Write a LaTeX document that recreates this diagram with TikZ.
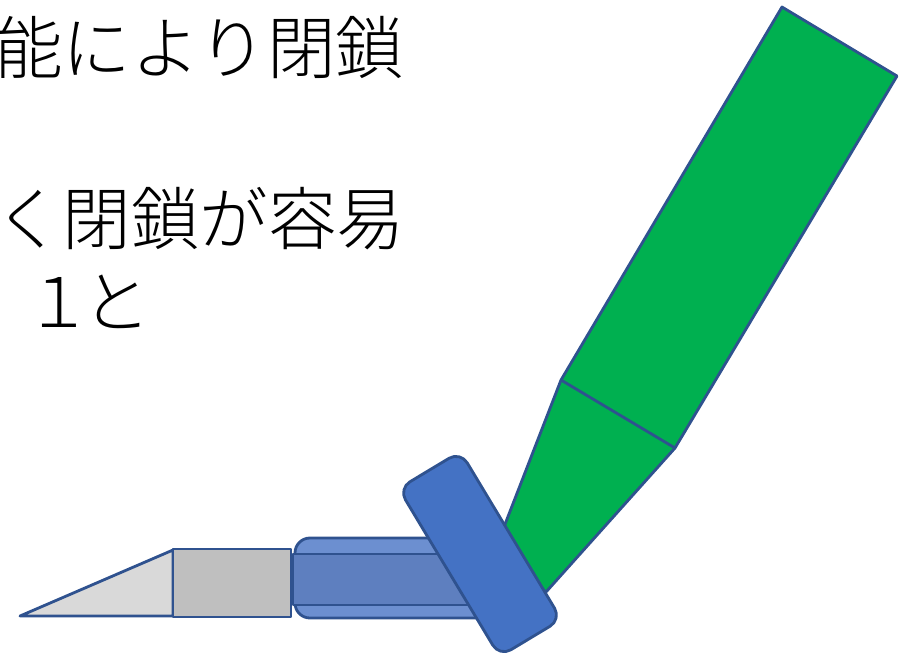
\documentclass[tikz,border=0pt]{standalone}
\usepackage{fontspec}
\newfontfamily\jpfont{Noto Sans CJK JP}[UprightFont=* Light]
\definecolor{edgeblue}{HTML}{2F528F}
\definecolor{strapblue}{HTML}{4472C4}
\definecolor{gripblue}{HTML}{6C8FD0}
\definecolor{bandblue}{HTML}{5E7FBF}
\definecolor{bodygreen}{HTML}{00B050}
\definecolor{bladegray}{HTML}{D9D9D9}
\definecolor{ferrulegray}{HTML}{BFBFBF}
\begin{document}
\begin{tikzpicture}[x=0.02cm,y=-0.02cm,
  part/.style={draw=edgeblue,line width=1.6pt,line join=round},
  textline/.style={anchor=west,inner sep=0pt,font=\jpfont\fontsize{39}{46}\selectfont}]
\useasboundingbox (0,0) rectangle (908,663);
\clip (0,0) rectangle (908,663);

% text, cut at the left edge
\node (lineA) [textline] at (-6,47) {能により閉鎖};
\node (lineB) [textline] at (-6,219) {く閉鎖が容易};
\node (lineC) [textline] at (24,302) {１\kern-0.15em と};

% blade and ferrule
\draw [part,fill=bladegray] (20,616) -- (173,550) -- (173,616) -- cycle;
\draw [part,fill=ferrulegray] (173,549) rectangle (291,617);

% grip, with the darker band
\draw [part,fill=gripblue,rounded corners=8.5pt] (295,538) rectangle (495,618);
\draw [part,fill=bandblue] (293,554) rectangle (495,605);

% green body
\draw [part,fill=bodygreen] (782,7) -- (897,76) -- (675,448) -- (546,592)
  -- (495,550) -- (561,380) -- cycle;
\draw [part] (561,380) -- (675,448);

% strap across the joint
\draw [part,fill=strapblue,rounded corners=7.5pt,rotate around={-59:(480,554)}]
  (382,518) rectangle (578,590);
\end{tikzpicture}
\end{document}
